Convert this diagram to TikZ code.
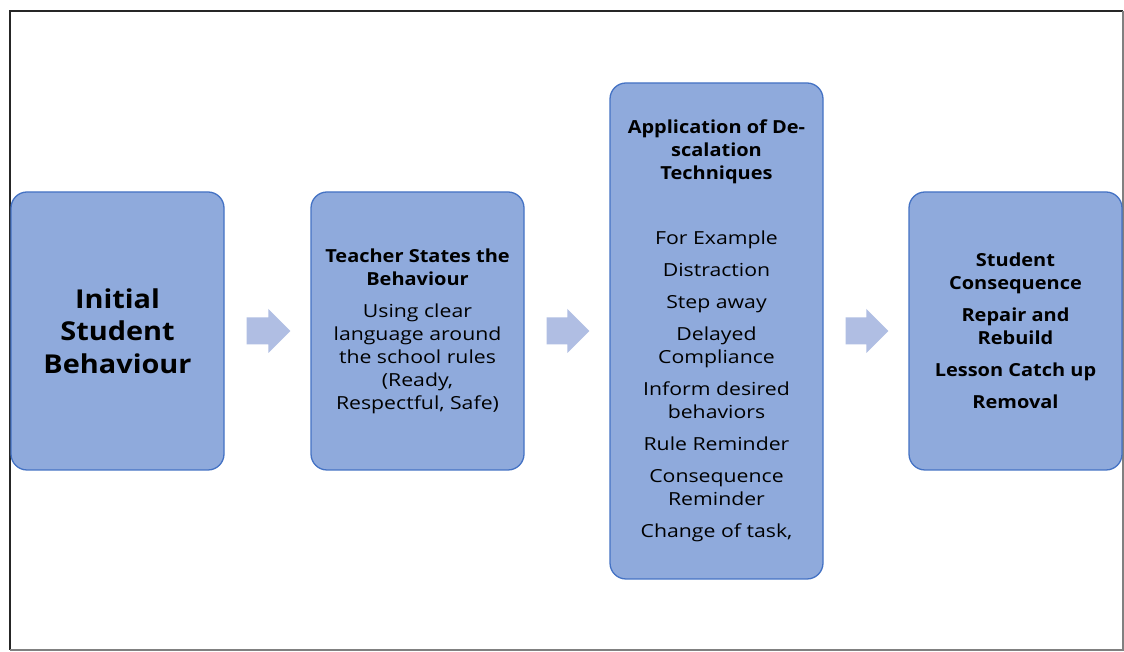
\documentclass[tikz,border=0pt]{standalone}
\usepackage{fontspec}
\setmainfont{Open Sans}[FakeStretch=1.18, BoldFeatures={FakeStretch=1.11}]
\usetikzlibrary{calc}
\definecolor{boxfill}{HTML}{8FAADC}
\definecolor{boxline}{HTML}{4472C4}
\definecolor{arrowfill}{RGB}{176,190,227}
\tikzset{
  stagebox/.style={draw=boxline, fill=boxfill, line width=1.3pt, rounded corners=16pt,
    minimum width=213pt, inner sep=0pt, align=center, text=black,
    font=\fontsize{18}{23}\selectfont},
}
\newcommand{\blockarrow}[2]{%
  \fill[arrowfill] ($(#1.east)+(22,13.5)$) -- ($(#1.east)+(22,-13.5)$)
    -- ($(#2.west)+(-42,-13.5)$) -- ($(#2.west)+(-42,-22)$)
    -- ($(#2.west)+(-20,0)$) -- ($(#2.west)+(-42,22)$)
    -- ($(#2.west)+(-42,13.5)$) -- cycle;}
\begin{document}
\begin{tikzpicture}[x=1pt,y=1pt]
\useasboundingbox (0,0) rectangle (1124,652);
\fill[white] (0,0) rectangle (1124,652);
% frame
\draw[line width=1.2pt, color=black!85] (10,2) -- (10,641) -- (1123,641);
\draw[line width=1.2pt, color=black!50] (1123,641) -- (1123,2) -- (10,2);
% boxes
\node[stagebox, minimum height=278pt, font=\bfseries\fontsize{26}{32.5}\selectfont] (b1) at (117.5,321)
  {Initial\\Student\\Behaviour};
\node[stagebox, minimum height=278pt] (b2) at (417.5,321)
  {\textbf{Teacher States the}\\\textbf{Behaviour}\\[9pt]
   Using clear\\language around\\the school rules\\(Ready,\\Respectful, Safe)};
\node[stagebox, minimum height=496pt] (b3) at (716.5,321)
  {\textbf{Application of De-}\\\textbf{scalation}\\\textbf{Techniques}\\[42pt]
   For Example\\[9pt]Distraction\\[9pt]Step away\\[9pt]Delayed\\Compliance\\[9pt]
   Inform desired\\behaviors\\[9pt]Rule Reminder\\[9pt]Consequence\\Reminder\\[9pt]
   Change of task,};
\node[stagebox, minimum height=278pt, font=\bfseries\fontsize{18}{23}\selectfont] (b4) at (1015.5,321)
  {Student\\Consequence\\[9pt]Repair and\\Rebuild\\[9pt]Lesson Catch up\\[9pt]Removal};
% arrows
\blockarrow{b1}{b2}
\blockarrow{b2}{b3}
\blockarrow{b3}{b4}
\end{tikzpicture}
\end{document}
